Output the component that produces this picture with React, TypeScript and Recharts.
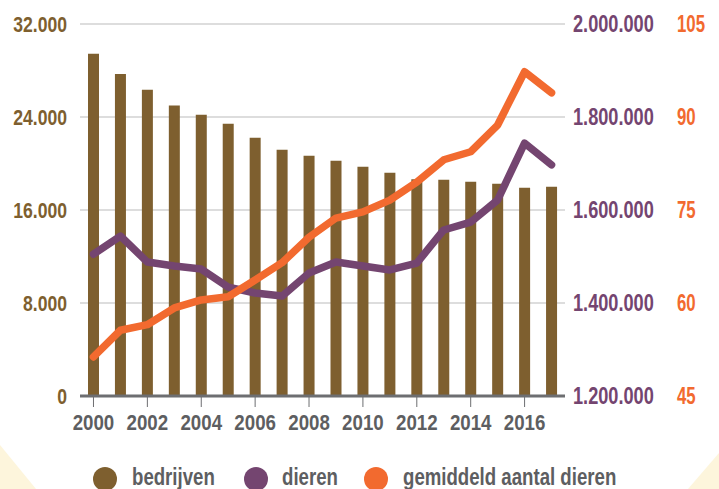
import {
  ComposedChart,
  Bar,
  Line,
  XAxis,
  YAxis,
  CartesianGrid,
} from "recharts";

const years = [
  "2000", "2001", "2002", "2003", "2004", "2005", "2006", "2007", "2008",
  "2009", "2010", "2011", "2012", "2013", "2014", "2015", "2016", "2017",
];

// aantal bedrijven
const bedrijven = [
  29450, 27700, 26350, 24980, 24200, 23430, 22220, 21190, 20670, 20240, 19720,
  19210, 18650, 18600, 18430, 18260, 17920, 18000,
];

// totaal aantal dieren
const dieren = [
  1505000, 1544000, 1488000, 1479500, 1473000, 1434000, 1421500, 1415000,
  1464500, 1488000, 1479500, 1471000, 1486000, 1557000, 1574000, 1621500,
  1744000, 1697000,
];

// gemiddeld aantal dieren per bedrijf
const gemiddeld = [
  51.3, 55.6, 56.5, 59.2, 60.5, 61.0, 63.7, 66.5, 70.6, 73.7, 74.7, 76.6, 79.5,
  83.1, 84.4, 88.7, 97.3, 93.9,
];

const leftTicks = [0, 8000, 16000, 24000, 32000];
const dierenTicks = [1200000, 1400000, 1600000, 1800000, 2000000];
const gemTicks = [45, 60, 75, 90, 105];

const BROWN = "#7e5f2f";
const PURPLE = "#744570";
const ORANGE = "#f26a2f";
const GREY = "#5d5e61";
const FONT = "'Liberation Sans', Arial, sans-serif";

const fmt = (v: number) =>
  String(v).replace(/\B(?=(\d{3})+(?!\d))/g, ".");

const data = years.map((year, i) => ({
  year,
  bedrijven: bedrijven[i],
  dieren: dieren[i],
  gemiddeld: gemiddeld[i],
}));

const legendItems = [
  { label: "bedrijven", color: BROWN, cx: 105, tx: 132 },
  { label: "dieren", color: PURPLE, cx: 256, tx: 282 },
  { label: "gemiddeld aantal dieren", color: ORANGE, cx: 376, tx: 403 },
];

// condensed looking tick: bold sans squeezed horizontally
function NarrowTick(props: any) {
  const { x, y, payload, anchor, fill, size, sx, dy, format } = props;
  const label = format ? format(payload.value) : String(payload.value);
  return (
    <text
      transform={`translate(${x},${y}) scale(${sx},1)`}
      x={0}
      y={0}
      dy={dy}
      textAnchor={anchor}
      fill={fill}
      fontSize={size}
      fontWeight={700}
      fontFamily={FONT}
    >
      {label}
    </text>
  );
}

export default function App() {
  return (
    <div
      style={{
        position: "fixed",
        left: 0,
        top: 0,
        width: 719,
        height: 489,
        background: "#fff",
        overflow: "hidden",
        fontFamily: FONT,
      }}
    >
      <svg
        width={719}
        height={489}
        style={{ position: "absolute", left: 0, top: 0 }}
      >
        <polygon points="0,445 36,489 0,489" fill="#fdf5dc" />
        <polygon points="719,453 688,489 719,489" fill="#fdf5dc" />
      </svg>

      <div style={{ position: "absolute", left: 0, top: 0 }}>
        <ComposedChart
          width={719}
          height={489}
          data={data}
          margin={{ top: 24, right: 0, left: 0, bottom: 0 }}
          barCategoryGap={0}
        >
          <CartesianGrid
            yAxisId="left"
            vertical={false}
            stroke="#d2d2d2"
            strokeWidth={1.5}
          />
          <XAxis
            dataKey="year"
            interval={1}
            height={93}
            axisLine={{ stroke: "#6d6e71", strokeWidth: 3 }}
            tickLine={{ stroke: "#6d6e71", strokeWidth: 1 }}
            tickSize={11}
            tickMargin={7}
            tick={
              <NarrowTick anchor="middle" fill={GREY} size={22} sx={0.85} dy="0.71em" />
            }
          />
          <YAxis
            yAxisId="left"
            orientation="left"
            width={80}
            domain={[0, 32000]}
            ticks={leftTicks}
            axisLine={false}
            tickLine={false}
            tickSize={6}
            tickMargin={7}
            tick={
              <NarrowTick anchor="end" fill={BROWN} size={22} sx={0.8} dy="0.36em" format={fmt} />
            }
          />
          <YAxis
            yAxisId="dieren"
            orientation="right"
            width={100}
            domain={[1200000, 2000000]}
            ticks={dierenTicks}
            axisLine={false}
            tickLine={false}
            tickSize={6}
            tickMargin={2}
            tick={
              <NarrowTick anchor="start" fill={PURPLE} size={23} sx={0.79} dy="0.36em" format={fmt} />
            }
          />
          <YAxis
            yAxisId="gem"
            orientation="right"
            width={54}
            domain={[45, 105]}
            ticks={gemTicks}
            axisLine={false}
            tickLine={false}
            tickSize={6}
            tickMargin={6}
            tick={
              <NarrowTick anchor="start" fill={ORANGE} size={23} sx={0.73} dy="0.36em" />
            }
          />
          <Bar
            yAxisId="left"
            dataKey="bedrijven"
            fill={BROWN}
            barSize={11}
            isAnimationActive={false}
          />
          <Line
            yAxisId="dieren"
            dataKey="dieren"
            stroke={PURPLE}
            strokeWidth={7.5}
            strokeLinecap="round"
            strokeLinejoin="round"
            dot={false}
            activeDot={false}
            isAnimationActive={false}
          />
          <Line
            yAxisId="gem"
            dataKey="gemiddeld"
            stroke={ORANGE}
            strokeWidth={7.5}
            strokeLinecap="round"
            strokeLinejoin="round"
            dot={false}
            activeDot={false}
            isAnimationActive={false}
          />
        </ComposedChart>
      </div>

      {legendItems.map((item) => (
        <div key={item.label}>
          <div
            style={{
              position: "absolute",
              left: item.cx - 12,
              top: 467,
              width: 24,
              height: 24,
              borderRadius: "50%",
              background: item.color,
            }}
          />
          <div
            style={{
              position: "absolute",
              left: item.tx,
              top: 464,
              fontSize: 23,
              lineHeight: "26px",
              fontWeight: 700,
              color: GREY,
              whiteSpace: "nowrap",
              transform: "scaleX(0.81)",
              transformOrigin: "left center",
            }}
          >
            {item.label}
          </div>
        </div>
      ))}
    </div>
  );
}
